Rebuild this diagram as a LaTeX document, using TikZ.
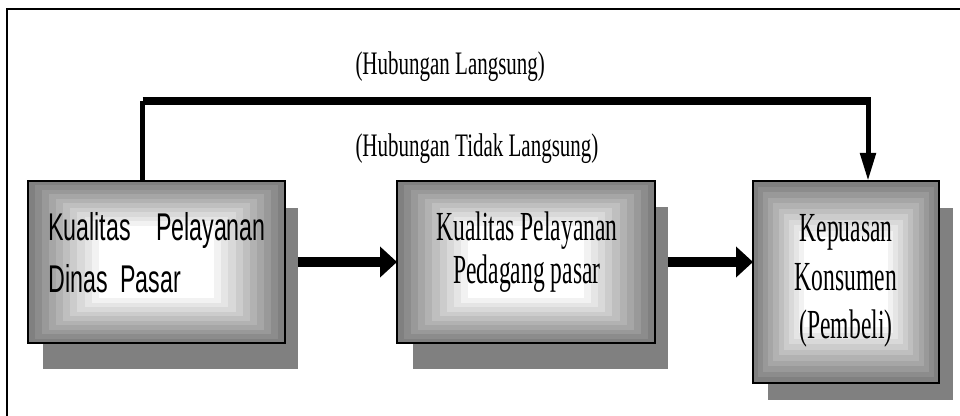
\documentclass[tikz,border=0pt]{standalone}
\usepackage{fontspec}
\usetikzlibrary{arrows.meta,calc}
\newfontfamily\labelfont[FakeStretch=0.64]{Liberation Serif}
\newfontfamily\boxserif[FakeStretch=0.57]{Liberation Serif}
\newfontfamily\boxsans[FakeStretch=0.6]{Liberation Sans}

\tikzset{every picture/.style={line width=0.75pt}}
\tikzset{
  kotak/.style={draw, line width=1.5pt, inner sep=0pt, outer sep=0pt,
    path picture={
      \foreach \k [evaluate=\k as \gr using 50-5*\k, evaluate=\k as \fr using 1-0.055*\k] in {0,...,10}
        \fill [black!\gr] ($(path picture bounding box.center)!\fr!(path picture bounding box.south west)$) rectangle ($(path picture bounding box.center)!\fr!(path picture bounding box.north east)$);
    }},
  bayang/.style={fill={rgb, 255:red, 128; green, 128; blue, 128 }, inner sep=0pt, outer sep=0pt},
  panah/.style={line width=7.5pt, -{Triangle[length=12.75pt,width=22.5pt]}},
}

\begin{document}
\begin{tikzpicture}[x=0.75pt,y=0.75pt,yscale=-1,xscale=1]
\useasboundingbox (0,0) rectangle (960,416);
\fill [white] (0,0) rectangle (960,416);

%Straight Lines: frame
\draw [line width=1.5pt] (7,420) -- (7,9) -- (965,9) ;

%Shape: Rectangle (shadows)
\node (dinasbg) [bayang, minimum width=191.25pt, minimum height=120.75pt] at (170.5,288.5) {};
\node (pedagangbg) [bayang, minimum width=191.25pt, minimum height=121.5pt] at (540.5,288.5) {};
\node (konsumenbg) [bayang, minimum width=138.75pt, minimum height=144pt] at (860.5,304) {};

%Shape: Rectangle (boxes)
\node (dinas) [kotak, minimum width=192.75pt, minimum height=121.5pt] at (156.5,262) {};
\node (pedagang) [kotak, minimum width=193.5pt, minimum height=121.5pt] at (526,262) {};
\node (konsumen) [kotak, minimum width=139.5pt, minimum height=151.5pt] at (846,282) {};

% Text Node
\draw (157,253) node (dinastxt) [align=left, font=\fontsize{29pt}{38.8pt}\selectfont\boxsans] {\makebox[163pt][s]{Kualitas Pelayanan}\\Dinas\ \ Pasar};
% Text Node
\draw (527,252) node (pedagangtxt) [align=center, font=\fontsize{31pt}{32.3pt}\selectfont\boxserif] {Kualitas Pelayanan\\Pedagang pasar};
% Text Node
\draw (846,281) node (konsumentxt) [align=center, font=\fontsize{31pt}{36.2pt}\selectfont\boxserif] {Kepuasan\\Konsumen\\(Pembeli)};
% Text Node
\draw (355,75) node (langsung) [anchor=base west, inner sep=0pt, font=\fontsize{24.6pt}{28pt}\selectfont\labelfont] {(Hubungan Langsung)};
% Text Node
\draw (355,157) node (tidaklangsung) [anchor=base west, inner sep=0pt, font=\fontsize{24.6pt}{28pt}\selectfont\labelfont] {(Hubungan Tidak Langsung)};

%Straight Lines: direct link
\coordinate (kiri) at (142.5,101);
\coordinate (kanan) at (868,101);
\draw [line width=3.75pt] (kiri |- dinas.north) -- (kiri) ;
\draw [line width=6pt] (kiri) -- ($(kanan)+(2.5,0)$) ;
\draw [line width=3.75pt, -{Triangle[length=21pt,width=11.25pt]}] (kanan) -- (kanan |- konsumen.north) ;

%Straight Lines: indirect link
\draw [panah] (dinas -| dinasbg.east) -- (pedagang.west) ;
\draw [panah] (pedagang -| pedagangbg.east) -- (pedagang -| konsumen.west) ;

\end{tikzpicture}
\end{document}
